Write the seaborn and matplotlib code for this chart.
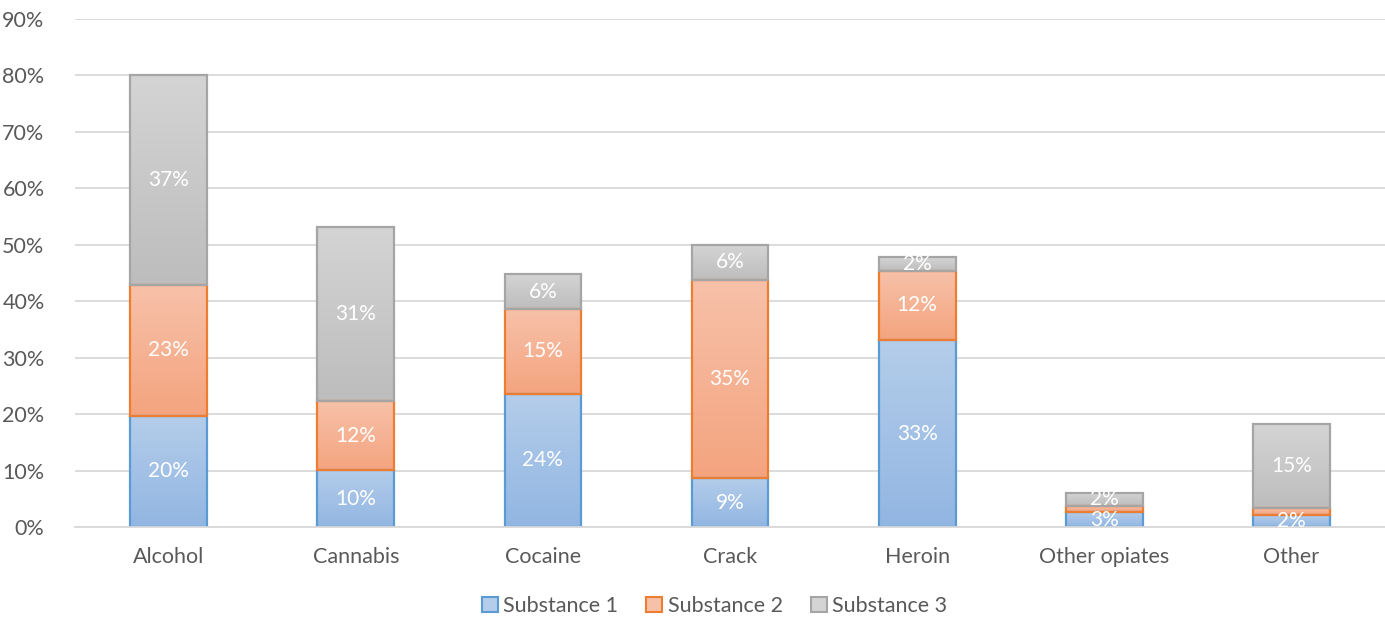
import numpy as np
import pandas as pd
import matplotlib
matplotlib.use("Agg")
import matplotlib.pyplot as plt
from matplotlib.patches import Patch
from matplotlib.colors import LinearSegmentedColormap
import seaborn as sns

categories = ["Alcohol", "Cannabis", "Cocaine", "Crack", "Heroin", "Other opiates", "Other"]
substance1 = [19.7, 10.1, 23.6, 8.7, 33.1, 2.6, 2.1]
substance2 = [23.2, 12.2, 15.0, 35.1, 12.3, 1.1, 1.3]
substance3 = [37.2, 30.9, 6.2, 6.2, 2.4, 2.4, 14.8]
series_names = ["Substance 1", "Substance 2", "Substance 3"]

edge_cols = ["#5b9bd5", "#ed7d31", "#a5a5a5"]
top_cols = ["#b4cdea", "#f7c1a9", "#d4d4d4"]
bot_cols = ["#92b6e2", "#f4a47f", "#bdbdbd"]
txt_col = "#595959"

sns.set_theme(style="white")
plt.rcParams["font.family"] = ["Lato", "DejaVu Sans"]

fig = plt.figure(figsize=(13.85, 6.23), dpi=100)
ax = fig.add_axes([0.0542, 0.154, 0.9458, 0.8155])

df = pd.DataFrame({"cat": categories, "s1": substance1, "s2": substance2, "s3": substance3})
bottoms = np.zeros(len(categories))
for i, col in enumerate(["s1", "s2", "s3"]):
    n0 = len(ax.patches)
    sns.barplot(data=df, x="cat", y=col, order=categories, color=top_cols[i],
                width=0.41, bottom=bottoms.copy(), ax=ax, linewidth=1.6,
                edgecolor=edge_cols[i], zorder=2)
    cmap = LinearSegmentedColormap.from_list("g%d" % i, [bot_cols[i], top_cols[i]])
    for j, p in enumerate(ax.patches[n0:]):
        x0, y0 = p.get_x(), p.get_y()
        w, h = p.get_width(), p.get_height()
        p.set_facecolor("none")
        im = ax.imshow(np.linspace(0, 1, 64).reshape(-1, 1), cmap=cmap, origin="lower",
                       extent=[x0, x0 + w, y0, y0 + h], aspect="auto", zorder=1.5,
                       interpolation="bilinear")
        im.set_clip_path(p)
        val = df[col].iloc[j]
        if val >= 1.5:
            ax.text(x0 + w / 2, y0 + h / 2, "%d%%" % round(val), ha="center", va="center",
                    color="white", fontsize=15, zorder=3)
    bottoms = bottoms + df[col].to_numpy()

ax.set_xlim(-0.5, len(categories) - 0.5)
ax.set_ylim(0, 90)
ax.set_yticks(np.arange(0, 91, 10))
ax.set_yticklabels(["%d%%" % v for v in range(0, 91, 10)])
ax.yaxis.grid(True, color="#d9d9d9", linewidth=1.3)
ax.set_axisbelow(True)
for s in ["top", "right", "left"]:
    ax.spines[s].set_visible(False)
ax.spines["bottom"].set_color("#d9d9d9")
ax.spines["bottom"].set_linewidth(1.3)
ax.set_xlabel("")
ax.set_ylabel("")
ax.tick_params(axis="both", colors=txt_col, labelsize=15.5, length=0)
ax.tick_params(axis="x", pad=14)
ax.tick_params(axis="y", pad=22)

handles = [Patch(facecolor=top_cols[i], edgecolor=edge_cols[i], linewidth=1.5, label=series_names[i])
           for i in range(3)]
leg = fig.legend(handles=handles, loc="lower center", bbox_to_anchor=(0.516, -0.02), ncol=3,
                 frameon=False, fontsize=15.5, handlelength=0.75, handleheight=0.75,
                 handletextpad=0.25, columnspacing=1.3)
for t in leg.get_texts():
    t.set_color(txt_col)

fig.savefig("out.png", dpi=100)
